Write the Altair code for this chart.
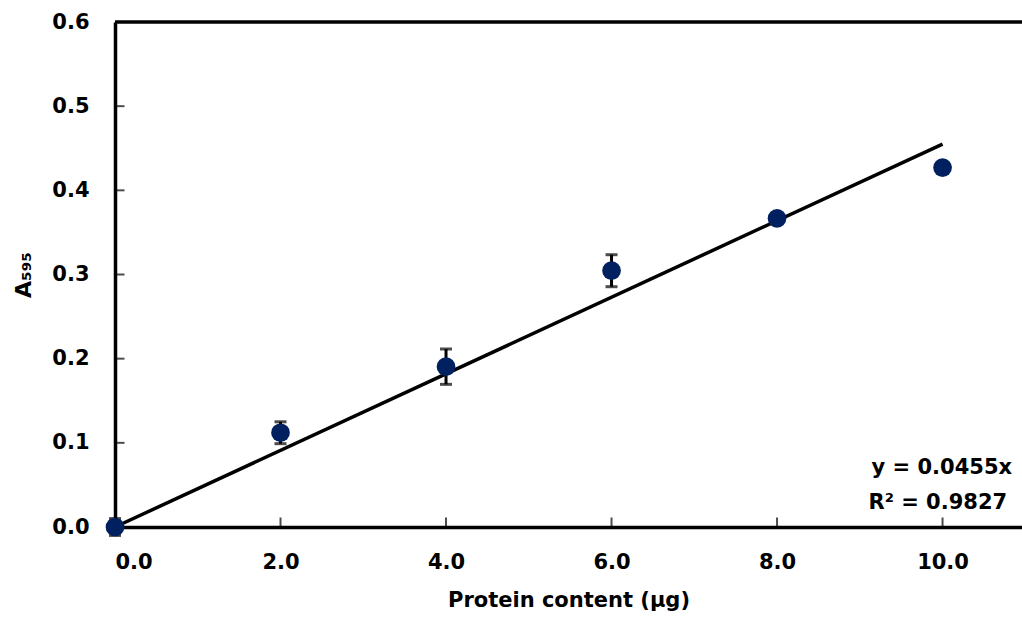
import altair as alt
import pandas as pd

protein = [0.0, 2.0, 4.0, 6.0, 8.0, 10.0]
absorb = [0.0, 0.112, 0.1905, 0.3045, 0.3667, 0.427]
err = [0.010, 0.013, 0.021, 0.019, 0.004, 0.003]
slope = 0.0455
fit_x = [0.0, 10.0]
x_ticks = [0, 2, 4, 6, 8, 10]
y_ticks = [0.0, 0.1, 0.2, 0.3, 0.4, 0.5, 0.6]
eq_lines = ["y = 0.0455x", "R² = 0.9827"]

FONT = "DejaVu Sans"
NAVY = "#002060"
FS = 21

df = pd.DataFrame({"x": protein, "y": absorb, "e": err})
df["lo"] = df["y"] - df["e"]
df["hi"] = df["y"] + df["e"]
fit = pd.DataFrame({"x": fit_x, "y": [slope * v for v in fit_x]})

xs = alt.Scale(domain=[0, 10.96], nice=False, zero=False)
ys = alt.Scale(domain=[0, 0.6], nice=False)

xaxis = alt.Axis(values=x_ticks, format=".1f", title="Protein content (µg)",
                 grid=False, domain=True, domainColor="black", domainWidth=3.5,
                 ticks=False, labelFont=FONT, labelFontSize=FS, labelFontWeight="bold",
                 labelColor="black", labelPadding=24, titleFont=FONT, titleFontSize=FS,
                 titleFontWeight="bold", titleColor="black", titlePadding=17)
yaxis = alt.Axis(values=y_ticks, format=".1f", title="A₅₉₅",
                 grid=False, domain=True, domainColor="black", domainWidth=3.5,
                 ticks=False, labelFont=FONT, labelFontSize=FS, labelFontWeight="bold",
                 labelColor="black", labelPadding=26, titleFont=FONT, titleFontSize=22,
                 titleFontWeight="bold", titleColor="black", titlePadding=16)

base = alt.Chart(df)

pts = base.mark_circle(size=350, opacity=1, color=NAVY, clip=False).encode(
    x=alt.X("x:Q", scale=xs, axis=xaxis),
    y=alt.Y("y:Q", scale=ys, axis=yaxis),
)
bars = base.mark_rule(color="black", strokeWidth=3, clip=False).encode(
    x=alt.X("x:Q", scale=xs), y=alt.Y("lo:Q", scale=ys), y2="hi:Q")
cap_hi = base.mark_tick(color="black", thickness=3, size=12, orient="horizontal", clip=False).encode(
    x=alt.X("x:Q", scale=xs), y=alt.Y("hi:Q", scale=ys))
cap_lo = base.mark_tick(color="black", thickness=3, size=12, orient="horizontal", clip=False).encode(
    x=alt.X("x:Q", scale=xs), y=alt.Y("lo:Q", scale=ys))

line = alt.Chart(fit).mark_line(color="black", strokeWidth=3.5, clip=False).encode(
    x=alt.X("x:Q", scale=xs), y=alt.Y("y:Q", scale=ys))

top = alt.Chart(pd.DataFrame({"y": [0.6]})).mark_rule(color="black", strokeWidth=3.5).encode(
    y=alt.Y("y:Q", scale=ys))

xt = alt.Chart(pd.DataFrame({"x": x_ticks[1:], "y": [0.0] * 5})).mark_tick(
    color="black", thickness=2, size=9, orient="vertical", yOffset=-5, clip=False).encode(
    x=alt.X("x:Q", scale=xs), y=alt.Y("y:Q", scale=ys))
yt = alt.Chart(pd.DataFrame({"x": [0.0] * 6, "y": y_ticks[:-1]})).mark_tick(
    color="black", thickness=2, size=9, orient="horizontal", xOffset=5, clip=False).encode(
    x=alt.X("x:Q", scale=xs), y=alt.Y("y:Q", scale=ys))

eq = alt.Chart(pd.DataFrame({"t": eq_lines, "x": [10.84, 10.78], "y": [0.070, 0.0285]})).mark_text(
    align="right", baseline="middle", font=FONT, fontSize=FS, fontWeight="bold", color="black").encode(
    x=alt.X("x:Q", scale=xs), y=alt.Y("y:Q", scale=ys), text="t:N")

chart = alt.layer(top, xt, yt, line, bars, cap_hi, cap_lo, pts, eq).properties(
    width=907, height=505,
    autosize=alt.AutoSizeParams(type="none"),
    padding={"left": 115, "top": 22, "right": 0, "bottom": 96},
).configure_view(stroke=None).configure(background="white")

chart.save("out.html", embed_options={"renderer": "svg", "actions": False})
